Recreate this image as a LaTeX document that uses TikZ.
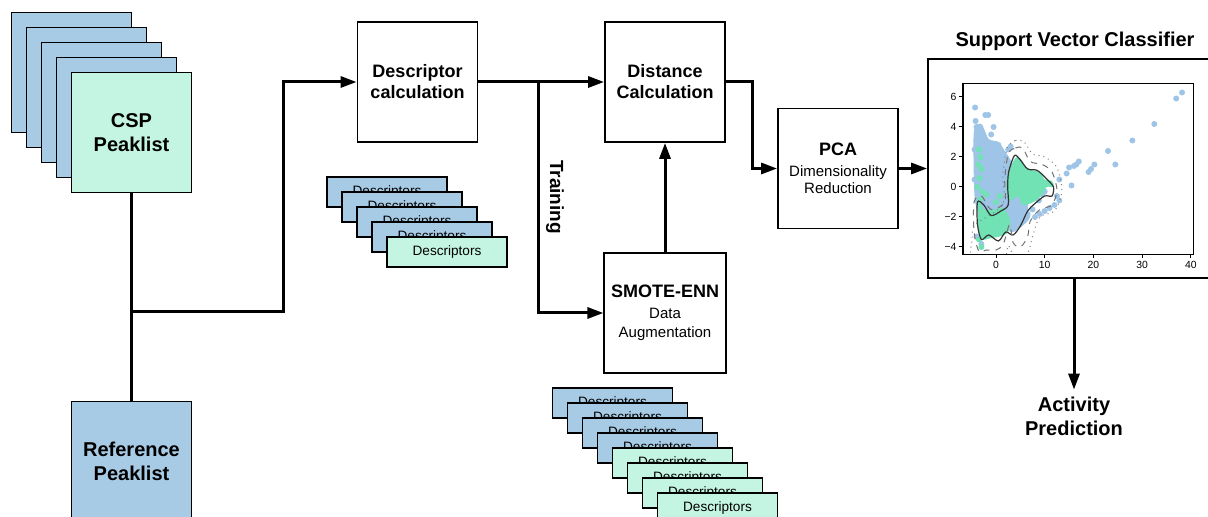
\documentclass[tikz,border=0pt]{standalone}
\usepackage{fontspec}
\setmainfont{Liberation Sans}
\usepackage{tikz}
\usetikzlibrary{arrows.meta,positioning,calc}
\usepackage{xcolor}
\definecolor{peakblue}{RGB}{168,203,229}
\definecolor{peakgreen}{RGB}{196,245,226}
\definecolor{dotblue}{RGB}{158,196,232}
\definecolor{dotgreen}{RGB}{112,226,180}
\newcommand\subtxt[1]{{\mdseries\fontsize{7.5}{9}\selectfont #1}}

\begin{document}
\begin{tikzpicture}[x=0.5pt, y=-0.5pt,
  box/.style={rectangle, draw, line width=0.9pt, fill=white,
              minimum width=60pt, minimum height=60pt, align=center,
              font=\bfseries\fontsize{9}{10.5}\selectfont},
  sheet/.style={box, fill=peakblue, font=\bfseries\fontsize{10}{12}\selectfont},
  card/.style={rectangle, draw, line width=0.9pt, fill=peakblue,
               minimum width=60pt, minimum height=15pt, inner sep=0pt,
               font=\fontsize{6.8}{8}\selectfont},
  arrow/.style={-{Triangle[length=8pt,width=5.5pt]}, line width=1.5pt},
  wire/.style={line width=1.5pt},
  heading/.style={font=\bfseries\fontsize{10}{12}\selectfont, align=center},
  ticklab/.style={font=\fontsize{5.2}{6}\selectfont, inner sep=1pt}
]
  \useasboundingbox (0,0) rectangle (1208,517);
  \clip (0,0) rectangle (1208,517);

  % Nodes
  \foreach \i in {0,...,3}
    \node[sheet] (csp\i) at ({71.5+15*\i},{72.5+15*\i}) {};
  \node[sheet, fill=peakgreen] (csp) at (131.5,132.5) {CSP\\Peaklist};
  \node[sheet] (ref)   at (131.5,461.5) {Reference\\Peaklist};
  \node[box]   (desc)  at (417.5,82)    {Descriptor\\calculation};
  \node[box]   (dist)  at (665,82)      {Distance\\Calculation};
  \node[box]   (smote) at (665,313)
    {SMOTE-ENN\\\subtxt{Data}\\[-1pt]\subtxt{Augmentation}};
  \node[box]   (pca)   at (838,168.5)
    {PCA\\\subtxt{Dimensionality}\\[-2pt]\subtxt{Reduction}};
  \node[box, minimum width=142pt, minimum height=109.5pt] (svc) at (1070,168.5) {};
  \node[heading] (svctitle) at (1075,41) {Support Vector Classifier};
  \node[heading] (act) at (1074,416) {Activity\\Prediction};
  \node[heading, font=\bfseries\fontsize{9.5}{11}\selectfont, rotate=-90]
    (traintxt) at (555,197) {Training};

  % Descriptor stacks
  \foreach \i in {0,...,3}
    \node[card] (desca\i) at ({387+15*\i},{192+15*\i}) {Descriptors};
  \node[card, fill=peakgreen] (desca4) at (447,252) {Descriptors};
  \foreach \i/\c in {0/peakblue,1/peakblue,2/peakblue,3/peakblue,
                     4/peakgreen,5/peakgreen,6/peakgreen,7/peakgreen}
    \node[card, fill=\c] (descb\i) at ({612.5+15*\i},{403+15*\i}) {Descriptors};

  % Arrows
  \coordinate (split) at (131.5,312);
  \coordinate (bend)  at (283,312);
  \coordinate (train) at (538,82);
  \coordinate (turn)  at (752,82);
  \draw[wire]  (csp) -- (ref);
  \draw[arrow] (split) -- (bend) |- (desc);
  \draw[arrow] (desc) -- (dist);
  \draw[arrow] (train) |- (smote);
  \draw[arrow] (smote) -- (dist);
  \draw[arrow] (dist.east) -- (turn) |- (pca);
  \draw[arrow] (pca) -- (svc);
  \draw[arrow] (svc.south -| act) -- (act);

  % Scatter plot inside the classifier box
  \begin{scope}[shift={(996,187)}, x=2.435pt, y=7.5pt]
    \begin{scope}
      \clip (-6.8,-4.5) rectangle (40.5,6.9);
      \fill[dotblue] plot[smooth cycle] coordinates {(-4.5,3.8) (-3,4.2)
        (-1.5,3.2) (0.5,3) (2,2.3) (3,1.8) (4,1) (4.5,-0.5) (6,-1) (7,-2)
        (5,-2.7) (3,-3) (1,-2) (-1,-1.5) (-3,-2) (-4.3,-1) (-4.6,1.5)};
      \foreach \p in {(38.2,6.3),(37,5.9),(32.5,4.2),(28,3.1),(23,2.4),
          (24.5,1.5),(20.2,1.5),(19.5,1.2),(19,1.0),(17,1.7),(16.5,1.5),
          (16,1.4),(15,1.3),(14.5,0.9),(13,0.5),(15.5,0.1),(12.5,-0.6),
          (13,-0.9),(12,-1.2),(11,-1.4),(10,-1.6),(9,-1.8),(8,-2),(7.5,-1.5),
          (8.8,-0.9),(9.5,-0.5),(10,-0.3),(5,-2.3),(-4.3,5.3),(-4.2,4.4),
          (-4,4),(-2.2,4.8),(-1.6,4.8),(-0.5,4.0),(3,2.7),(2.5,2.5),
          (-3.8,3.5),(-2.5,3),(0.5,2.8),(1,2.3),(1.8,2.0),(2.3,1.5),(-3,2.5),
          (-1,3.5),(4,-1.2),(5,-0.8),(6,-1.2),(6.5,-1.8),(2,-0.5),
          (-3.2,-2.5),(-3,-3.8),(-4,-3.3),(-4.4,2.5),(-4.4,0.5),(3.8,0.8)}
        \fill[dotblue] \p circle (1.5pt);
      \fill[dotgreen] plot[smooth cycle] coordinates {(4.25,2.0) (3.5,1.7)
        (2.9,1.2) (2.2,0.5) (2.2,-0.3) (2.9,-0.9) (4.5,-0.6) (5.5,-1.2)
        (7.7,-1.0) (9.5,-0.5) (10.4,0) (11.8,0) (11.5,0.4) (10,0.5) (9,1)
        (7.5,1.1) (6,1.4) (5,1.9)};
      \fill[dotgreen] plot[smooth cycle] coordinates {(-3.6,-0.9)
        (-2.5,-1.5) (-0.5,-1.5) (1.5,-1.4) (2.9,-2.2) (2.5,-3) (0.8,-3.3)
        (-1,-3.4) (-2.5,-3.5) (-3.6,-3)};
      \foreach \p in {(-3.5,2.5),(-3.2,2),(-3.6,1.5),(-3,1.2),(-3.4,0.6),
          (-3.8,0),(-2.8,-0.3),(-3.2,-0.8),(-2,-0.5),(0,-1),(0.8,-0.6),
          (-3.5,-3.5),(-3,-4),(-0.5,-2.2)}
        \fill[dotgreen] \p circle (1.5pt);
      \draw[black!80, line width=0.6pt] plot[smooth cycle] coordinates {
        (-3.8,-1.0) (-2.5,-1.2) (-1,-1.9) (1,-1.6) (2.5,-1.2) (2.4,0)
        (2.6,1) (3.8,2.1) (5,1.8) (6.5,1.2) (8.5,1.1) (10.5,0.5) (11.8,0)
        (11.5,-0.6) (10,-0.6) (8,-1.1) (6.5,-1.6) (5,-2.6) (3.5,-3.2)
        (2,-3) (0.5,-3.6) (-1.5,-3.2) (-3,-3.5) (-3.8,-2.5)};
      \draw[black!55, line width=0.5pt, dashed] plot[smooth cycle] coordinates {
        (2.5,2.2) (4,2.6) (5.5,2.6) (7,1.7) (9.5,1.5) (11.5,1) (12.5,-0.2)
        (11.5,-1.2) (9,-1.5) (7,-2.3) (6.5,-3.3) (5,-4) (3.5,-3.7)
        (2.8,-2.5) (1.5,-3.8) (0,-4.2) (-2,-4.2) (-3.5,-4.3) (-4.5,-3)
        (-4.5,-1) (-3,-0.6) (-1,-1.5) (1.8,-1) (1.8,0.5)};
      \draw[black!50, line width=0.5pt, dotted] plot[smooth cycle] coordinates {
        (2.3,2.6) (4,3.1) (5.8,3) (7.5,2.2) (10,2) (12.5,1.3) (13.5,-0.3)
        (12,-1.6) (9,-2) (7.5,-3.3) (6.5,-4.4) (4,-4.8) (2.5,-3.9)
        (1.5,-4.8) (-4.8,-4.8) (-4.9,-3.5) (-4.2,-2.5) (1.3,-1.2) (1.4,0.8)};
    \end{scope}
    \draw[line width=0.6pt] (-6.8,-4.5) rectangle (40.5,6.9);
    \foreach \v/\t in {6/6,4/4,2/2,0/0,-2/−2,-4/−4}
      \draw[line width=0.5pt] (-6.8,\v) -- ++(-2pt,0) node[ticklab, left] {\t};
    \foreach \v in {0,10,20,30,40}
      \draw[line width=0.5pt] (\v,-4.5) -- ++(0,-2pt) node[ticklab, below] {\v};
  \end{scope}
\end{tikzpicture}
\end{document}
